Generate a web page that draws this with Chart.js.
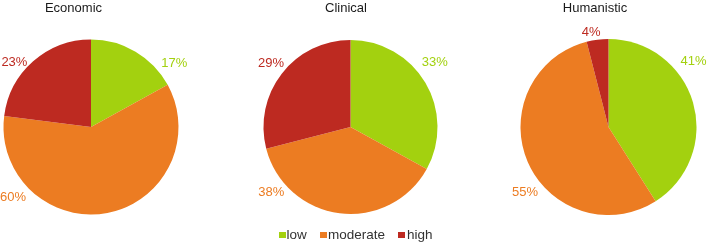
<!DOCTYPE html>
<html>
<head>
<meta charset="utf-8">
<script src="https://cdn.jsdelivr.net/npm/chart.js@4/dist/chart.umd.min.js"></script>
<style>
  body { margin: 0; background: #fff; }
  .wrap { position: relative; width: 708px; height: 243px; font-family: "Liberation Sans", Arial, sans-serif; }
  .wrap canvas { position: absolute; left: 0; top: 0; }
  .title { position: absolute; top: 0; width: 200px; text-align: center; font-size: 13px; line-height: 15px; color: #1a1a1a; }
  .leg { position: absolute; top: 226.5px; font-size: 13.5px; line-height: 15px; color: #333; }
  .sq { position: absolute; top: 231.5px; width: 6.5px; height: 6.5px; }
</style>
</head>
<body>
<div class="wrap">
  <canvas id="c1" width="708" height="243"></canvas>
  <canvas id="c2" width="708" height="243"></canvas>
  <canvas id="c3" width="708" height="243"></canvas>

  <div class="title" style="left:-26.5px">Economic</div>
  <div class="title" style="left:246px">Clinical</div>
  <div class="title" style="left:495px">Humanistic</div>

  <div class="sq" style="left:279px;background:#a3d10f"></div><div class="leg" style="left:286.5px">low</div>
  <div class="sq" style="left:320px;background:#ec7c22"></div><div class="leg" style="left:328px">moderate</div>
  <div class="sq" style="left:398px;background:#bd2a21"></div><div class="leg" style="left:407px">high</div>
</div>

<script>
// data
const categories = ['low', 'moderate', 'high'];
const economic = [17, 60, 23];
const clinical = [33, 38, 29];
const humanistic = [41, 55, 4];

const colours = ['#a3d10f', '#ec7c22', '#bd2a21'];

// percent labels sit outside the pie, [angle deg, distance px] like in the original
const outsideLabels = {
  id: 'outsideLabels',
  afterDatasetsDraw(chart, args, opts) {
    const ctx = chart.ctx;
    const meta = chart.getDatasetMeta(0);
    const values = chart.data.datasets[0].data;
    ctx.save();
    ctx.font = '13px "Liberation Sans", Arial, sans-serif';
    ctx.textAlign = 'center';
    ctx.textBaseline = 'middle';
    meta.data.forEach((arc, i) => {
      const a = opts.place[i][0] * Math.PI / 180;
      const d = opts.place[i][1];
      ctx.fillStyle = colours[i];
      ctx.fillText(values[i] + '%', arc.x + d * Math.cos(a), arc.y + d * Math.sin(a));
    });
    ctx.restore();
  }
};

function createPie(canvasId, values, pad, place) {
  new Chart(document.getElementById(canvasId), {
    type: 'pie',
    data: {
      labels: categories,
      datasets: [{
        data: values,
        backgroundColor: colours,
        borderWidth: 0
      }]
    },
    options: {
      responsive: false,
      animation: false,
      layout: { padding: pad },
      plugins: {
        legend: { display: false },
        tooltip: { enabled: false },
        outsideLabels: { place: place }
      }
    },
    plugins: [outsideLabels]
  });
}

createPie('c1', economic, { left: 3.5, right: 529.5, top: 39.5, bottom: 28.5 },
  [[-37.6, 105], [138, 105], [220, 100]]);
createPie('c2', clinical, { left: 263.5, right: 270.5, top: 40, bottom: 29 },
  [[-37.6, 106.5], [140.3, 103], [218.8, 102]]);
createPie('c3', humanistic, { left: 520.5, right: 11.5, top: 39, bottom: 28 },
  [[-37.8, 107.5], [142, 105.8], [259.6, 96.6]]);
</script>
</body>
</html>
